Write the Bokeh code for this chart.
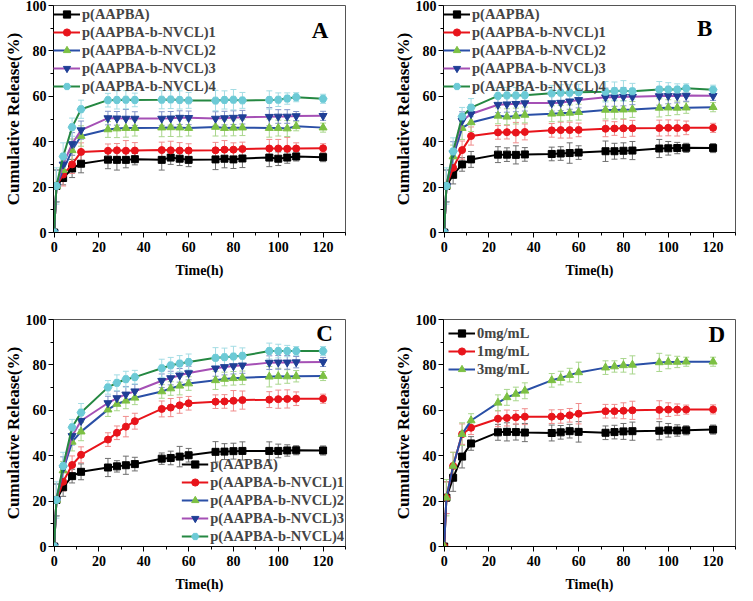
from bokeh.plotting import figure
from bokeh.models import Range1d, ColumnDataSource, Whisker, TeeHead, Label, FixedTicker
from bokeh.layouts import column, row
from bokeh.embed import file_html
from bokeh.resources import INLINE

# ---------------- data ----------------
TIME = [0, 1, 4, 8, 12, 24, 28, 32, 36, 48, 52, 56, 60, 72, 76, 80, 84, 96, 100, 104, 108, 120]

NAMES_ABC = ["p(AAPBA)", "p(AAPBA-b-NVCL)1", "p(AAPBA-b-NVCL)2", "p(AAPBA-b-NVCL)3", "p(AAPBA-b-NVCL)4"]
NAMES_D = ["0mg/mL", "1mg/mL", "3mg/mL"]

# Panel A
A_P  = [0, 20.5, 24.0, 28.2, 30.3, 32.1, 32.0, 32.0, 32.3, 32.0, 33.0, 32.5, 32.0, 32.2, 32.5, 32.2, 32.6, 33.0, 32.5, 33.0, 33.5, 33.2]
A_1  = [0, 20.5, 25.5, 30.0, 35.5, 36.0, 36.2, 36.0, 36.1, 36.3, 36.2, 36.1, 36.1, 36.2, 36.5, 36.5, 36.8, 37.0, 37.0, 36.9, 37.0, 37.1]
A_2  = [0, 20.5, 27.5, 36.2, 42.5, 45.4, 45.8, 46.0, 46.0, 46.2, 46.3, 46.2, 46.0, 46.5, 46.0, 46.1, 46.2, 46.0, 46.0, 45.8, 46.8, 46.2]
A_3  = [0, 20.5, 30.0, 39.0, 45.1, 50.4, 50.3, 50.2, 50.2, 50.2, 50.3, 50.6, 50.5, 50.2, 50.4, 50.6, 50.8, 51.0, 51.1, 51.1, 51.3, 51.4]
A_4  = [0, 20.5, 33.5, 46.4, 54.3, 58.3, 58.4, 58.5, 58.4, 58.5, 58.6, 58.4, 58.2, 58.1, 58.4, 58.5, 58.2, 58.4, 58.5, 59.0, 59.6, 58.9]
A_EP = [0, 7, 3, 4, 4, 4, 4.5, 3.5, 2.5, 4.5, 3, 3, 3, 4.5, 4, 4, 4, 4, 3, 2.5, 2, 2]
A_E1 = [0, 7, 5, 4, 4, 3, 3, 4.5, 3.5, 3.5, 4, 3.5, 3, 3.5, 4, 3, 3, 4, 4, 5, 2.5, 2]
A_E2 = [0, 7, 4, 5, 4.5, 3.5, 4, 4, 3.5, 4, 4, 4, 3.5, 4, 3.5, 3.5, 3.5, 4, 3.5, 3.5, 2, 2]
A_E3 = [0, 7, 4, 5, 4, 3, 3, 4, 3, 3, 3, 3, 3, 3, 3, 3, 3, 4, 3, 3, 2, 2]
A_E4 = [0, 8, 6, 4, 4, 3, 4, 4, 3, 4, 4, 4, 3.5, 4.5, 4, 4.5, 3.5, 4, 3, 2.5, 2, 2]

# Panel B
B_P  = [0, 20.5, 25.4, 30.0, 32.2, 34.3, 34.3, 34.2, 34.4, 34.6, 34.8, 35.0, 35.2, 35.8, 35.8, 36.0, 36.1, 37.0, 37.1, 37.2, 37.3, 37.2]
B_1  = [0, 20.5, 28.5, 36.3, 42.5, 44.1, 44.2, 44.0, 44.3, 45.0, 45.1, 45.1, 45.2, 45.7, 45.8, 45.9, 45.9, 46.0, 46.1, 46.0, 46.1, 46.1]
B_2  = [0, 20.5, 33.5, 46.0, 48.5, 51.4, 51.0, 51.3, 51.8, 52.3, 52.5, 52.7, 53.0, 54.0, 54.0, 54.1, 54.2, 54.9, 55.0, 54.9, 55.0, 55.2]
B_3  = [0, 20.5, 35.0, 49.2, 52.2, 56.3, 56.5, 56.7, 57.0, 57.0, 57.2, 57.8, 58.4, 59.6, 59.6, 59.8, 59.8, 60.1, 60.2, 60.1, 60.3, 60.2]
B_4  = [0, 20.5, 35.7, 51.1, 55.0, 60.2, 60.4, 60.4, 60.5, 61.3, 61.6, 61.6, 61.8, 62.0, 62.3, 62.4, 62.2, 63.0, 63.0, 63.0, 63.5, 62.9]
B_EP = [0, 7, 4, 3, 3.5, 3.5, 3, 4, 3, 3, 3, 4.5, 3, 4.5, 3.5, 3.5, 4, 4, 3, 2.5, 2, 2]
B_E1 = [0, 7, 4, 4, 4, 3, 3, 4.5, 3.5, 3, 3.5, 3.5, 3, 3.5, 3, 4, 3.5, 3.5, 3.5, 3.5, 3, 2]
B_E2 = [0, 7, 5, 5, 4, 3.5, 3.5, 3.5, 3.5, 3.5, 3.5, 3.5, 3.5, 4, 4, 4, 3.5, 4, 3.5, 3, 2.5, 2]
B_E3 = [0, 7, 5, 4, 4, 3.5, 3.5, 3.5, 3.5, 3.5, 3.5, 3.5, 3.5, 4, 4, 4, 3.5, 4, 3.5, 3, 2.5, 2]
B_E4 = [0, 8, 6, 4, 4, 3.5, 3.5, 3.5, 3, 3.5, 3.5, 3.5, 3.5, 4.5, 4, 4.5, 3.5, 3.5, 3, 2.5, 2, 2]

# Panel C
C_P  = [0, 20.5, 26.1, 31.0, 32.9, 34.8, 35.3, 35.8, 36.3, 38.7, 39.0, 39.6, 40.2, 41.7, 41.8, 42.0, 42.1, 42.1, 42.1, 42.3, 42.4, 42.3]
C_1  = [0, 20.5, 28.5, 35.9, 40.4, 47.1, 50.1, 52.8, 55.2, 60.6, 61.2, 62.2, 63.1, 63.8, 63.9, 64.2, 64.5, 64.7, 64.9, 65.0, 65.1, 65.1]
C_2  = [0, 20.5, 33.5, 46.1, 50.6, 60.3, 62.8, 64.2, 65.5, 68.3, 69.6, 70.8, 71.8, 73.2, 73.8, 74.1, 74.3, 74.8, 75.0, 74.9, 75.0, 75.1]
C_3  = [0, 20.5, 34.5, 48.7, 55.4, 63.2, 65.4, 67.0, 68.4, 73.0, 74.2, 75.4, 76.4, 78.5, 79.1, 79.5, 79.8, 81.0, 81.1, 81.1, 81.2, 81.3]
C_4  = [0, 20.5, 35.5, 52.5, 59.0, 70.1, 72.1, 73.7, 74.6, 78.5, 79.8, 80.6, 81.3, 83.1, 83.4, 83.7, 84.0, 86.1, 86.1, 86.1, 86.1, 86.1]
C_EP = [0, 7, 4, 3, 3.5, 4, 2.5, 4, 3, 2.5, 3, 4.5, 3, 4.5, 3.5, 3.5, 4, 4, 3, 2.5, 2, 2]
C_E1 = [0, 7, 4, 4, 3.5, 3, 3, 4.5, 3.5, 3.5, 4, 3.5, 3, 3, 3, 4.5, 4, 3.5, 4, 4, 3, 2]
C_E2 = [0, 7, 4, 4, 4, 3, 3, 3.5, 3, 3, 3, 4, 3, 4, 3, 3, 3, 4.5, 3.5, 3, 2.5, 2]
C_E3 = [0, 7, 5, 4, 4, 3, 3, 3.5, 3, 3, 3, 3, 3, 3.5, 3.5, 3.5, 3.5, 3, 3, 3, 2.5, 2]
C_E4 = [0, 8, 6, 3.5, 4, 3, 3.5, 3.5, 3, 4, 3.5, 3.5, 3.5, 4.5, 4, 4.5, 3.5, 3.5, 3, 2.5, 2, 2]

# Panel D
D_0  = [0, 21.5, 30.3, 39.6, 45.4, 50.3, 50.5, 50.4, 50.2, 50.0, 50.3, 50.8, 50.5, 50.1, 50.4, 50.7, 50.8, 51.0, 51.2, 51.1, 51.2, 51.5]
D_1  = [0, 21.5, 35.5, 49.5, 52.3, 56.3, 56.6, 56.9, 57.2, 57.2, 57.3, 57.8, 58.5, 59.6, 59.6, 59.8, 60.0, 60.2, 60.3, 60.3, 60.3, 60.4]
D_3  = [0, 21.5, 35.5, 49.5, 55.5, 63.3, 65.7, 67.2, 68.6, 73.2, 74.2, 75.5, 76.7, 78.8, 79.3, 79.8, 80.0, 81.1, 81.3, 81.3, 81.4, 81.4]
D_E0 = [0, 7, 6, 5, 3, 3.5, 4, 3.5, 4, 3.5, 3, 3, 4.5, 3, 3, 3.5, 4, 4, 3, 2.5, 2, 2]
D_E1 = [0, 7, 6, 4.5, 3, 3.5, 3.5, 3, 3.5, 3, 3, 3, 4.5, 3, 3, 3.5, 4, 4, 3, 2.5, 2, 2]
D_E3 = [0, 8, 6, 5, 3, 3.5, 3.5, 3, 3.5, 3, 3, 3, 4.5, 3, 2.5, 3, 4, 4, 3, 2.5, 2, 2]

X_TICKS = [0, 20, 40, 60, 80, 100, 120]
X_MINOR = [10, 30, 50, 70, 90, 110, 130]
Y_TICKS = [0, 20, 40, 60, 80, 100]
Y_MINOR = [10, 30, 50, 70, 90]

# ---------------- styles ----------------
FONT = "Liberation Serif"
STYLES = [
    dict(line="#000000", marker="square", fill="#000000", err="#6e6e6e", size=7),
    dict(line="#e8141b", marker="circle", fill="#e8141b", err="#f08c8c", size=7),
    dict(line="#2a4fa6", marker="triangle", fill="#7cc043", err="#a9d68c", size=8),
    dict(line="#a550b5", marker="inverted_triangle", fill="#1f3f96", err="#8093c8", size=8),
    dict(line="#258842", marker="hex", fill="#6ccad6", err="#a3dce4", size=8),
]
STYLES_D = [STYLES[0], STYLES[1], dict(line="#2a4fa6", marker="triangle", fill="#7cc043", err="#a9d68c", size=8)]


def make_panel(letter, letter_x, letter_y, series, errs, names, styles,
               width, height, mb_left, mb_right, mb_top, mb_bottom,
               legend_loc, legend_margin):
    p = figure(width=width, height=height, output_backend="svg", toolbar_location=None,
               x_range=Range1d(-0.3, 130), y_range=Range1d(0, 100),
               min_border_left=mb_left, min_border_right=mb_right,
               min_border_top=mb_top, min_border_bottom=mb_bottom)
    p.xgrid.visible = False
    p.ygrid.visible = False
    p.outline_line_color = "#555555"
    p.outline_line_width = 1
    p.background_fill_color = "white"

    for vals, err, name, st in zip(series, errs, names, styles):
        src = ColumnDataSource(dict(
            x=TIME, y=vals,
            lo=[v - e for v, e in zip(vals, err)],
            hi=[v + e for v, e in zip(vals, err)],
        ))
        w = Whisker(source=src, base="x", lower="lo", upper="hi",
                    line_color=st["err"], line_width=1,
                    lower_head=TeeHead(size=6, line_color=st["err"], line_width=1),
                    upper_head=TeeHead(size=6, line_color=st["err"], line_width=1))
        p.add_layout(w)
        p.line("x", "y", source=src, line_color=st["line"], line_width=2, legend_label=name)
        p.scatter("x", "y", source=src, marker=st["marker"], size=st["size"],
                  fill_color=st["fill"], line_color=st["fill"], legend_label=name)

    p.xaxis.ticker = FixedTicker(ticks=X_TICKS, minor_ticks=X_MINOR)
    p.yaxis.ticker = FixedTicker(ticks=Y_TICKS, minor_ticks=Y_MINOR)
    for ax in (p.xaxis[0], p.yaxis[0]):
        ax.major_tick_in = 0
        ax.major_tick_out = 5
        ax.minor_tick_in = 0
        ax.minor_tick_out = 3
        ax.axis_line_color = "black"
        ax.major_tick_line_color = "black"
        ax.minor_tick_line_color = "black"
        ax.major_label_text_font = FONT
        ax.major_label_text_font_style = "bold"
        ax.major_label_text_font_size = "14px"
        ax.major_label_text_color = "black"
        ax.axis_label_text_font = FONT
        ax.axis_label_text_font_style = "bold"
        ax.axis_label_text_color = "black"
    p.xaxis.axis_label = "Time(h)"
    p.xaxis.axis_label_text_font_size = "14px"
    p.xaxis.major_label_standoff = 4
    p.xaxis.axis_label_standoff = 8
    p.yaxis.axis_label = "Cumulative Release(%)"
    p.yaxis.axis_label_text_font_size = "17px"
    p.yaxis.major_label_standoff = 2
    p.yaxis.axis_label_standoff = 0

    lg = p.legend[0]
    lg.location = legend_loc
    lg.margin = legend_margin
    lg.padding = 0
    lg.spacing = 0
    lg.glyph_width = 27
    lg.glyph_height = 18
    lg.label_height = 18
    lg.label_standoff = 2
    lg.label_text_font = FONT
    lg.label_text_font_style = "bold"
    lg.label_text_font_size = "14.5px"
    lg.background_fill_alpha = 0
    lg.border_line_alpha = 0

    p.add_layout(Label(x=letter_x, y=letter_y, text=letter, text_align="center",
                       text_baseline="middle", text_font=FONT, text_font_style="bold",
                       text_font_size="23px", text_color="black"))
    return p


pa = make_panel("A", 118.6, 89.0, [A_P, A_1, A_2, A_3, A_4], [A_EP, A_E1, A_E2, A_E3, A_E4],
                NAMES_ABC, STYLES, 390, 310, 40, 45, 5, 78, "top_left", 0)
pb = make_panel("B", 116.2, 90.0, [B_P, B_1, B_2, B_3, B_4], [B_EP, B_E1, B_E2, B_E3, B_E4],
                NAMES_ABC, STYLES, 347, 310, 40, 2, 5, 78, "top_left", 0)
pc = make_panel("C", 120.7, 93.9, [C_P, C_1, C_2, C_3, C_4], [C_EP, C_E1, C_E2, C_E3, C_E4],
                NAMES_ABC, STYLES, 390, 286, 40, 45, 9, 50, "bottom_right", 1)
pd = make_panel("D", 121.7, 93.5, [D_0, D_1, D_3], [D_E0, D_E1, D_E3],
                NAMES_D, STYLES_D, 347, 286, 40, 2, 9, 50, "top_left", 5)

layout = column(row(pa, pb), row(pc, pd))
open("out.html", "w").write(file_html(layout, INLINE))
